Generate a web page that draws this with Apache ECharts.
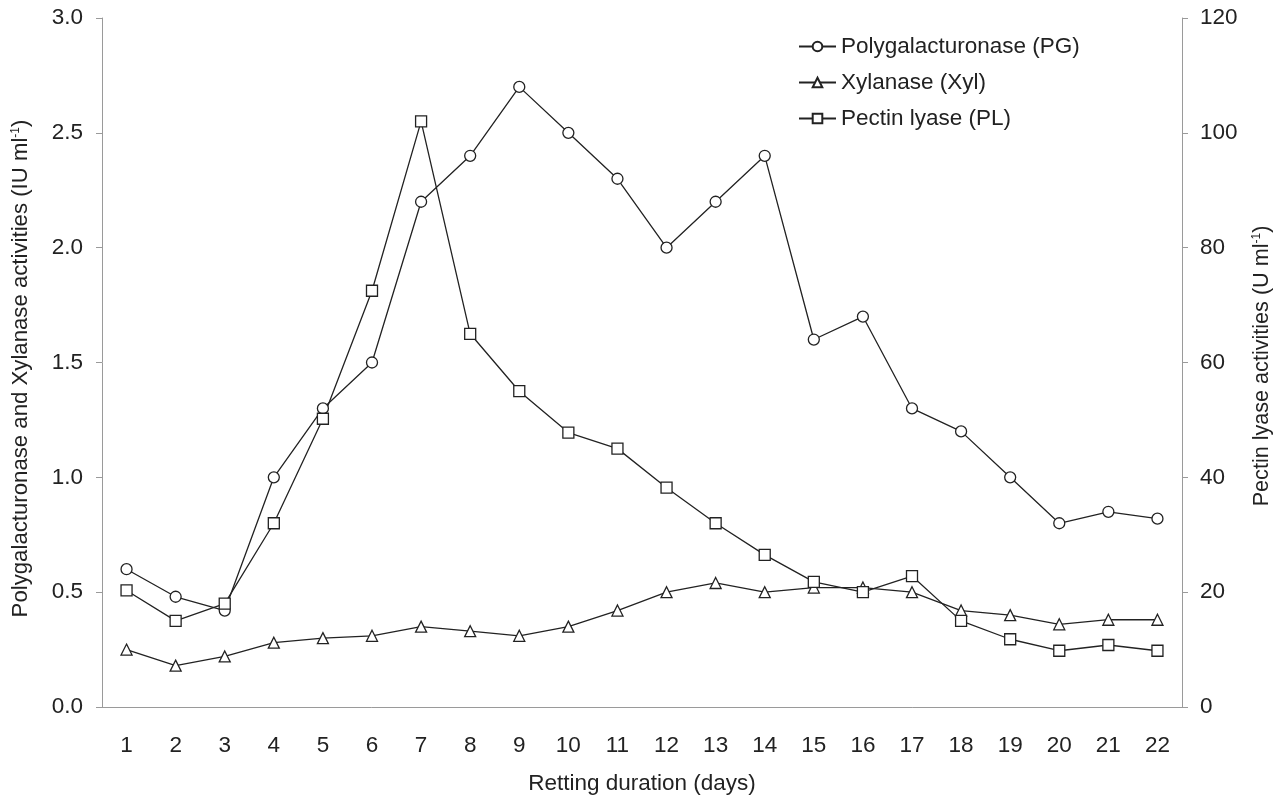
<!DOCTYPE html>
<html>
<head>
<meta charset="utf-8">
<script src="https://cdn.jsdelivr.net/npm/echarts@6/dist/echarts.min.js"></script>
<style>
  html, body { margin: 0; padding: 0; background: #fff; }
  #chart { width: 1283px; height: 800px; }
</style>
</head>
<body>
<div id="chart"></div>
<script>
const days = ['1','2','3','4','5','6','7','8','9','10','11','12','13','14','15','16','17','18','19','20','21','22'];
const pg = [0.6, 0.48, 0.42, 1.0, 1.3, 1.5, 2.2, 2.4, 2.7, 2.5, 2.3, 2.0, 2.2, 2.4, 1.6, 1.7, 1.3, 1.2, 1.0, 0.8, 0.85, 0.82];
const xyl = [0.25, 0.18, 0.22, 0.28, 0.3, 0.31, 0.35, 0.33, 0.31, 0.35, 0.42, 0.5, 0.54, 0.5, 0.52, 0.52, 0.5, 0.42, 0.4, 0.36, 0.38, 0.38];
const pl = [20.3, 15, 18, 32, 50.2, 72.5, 102, 65, 55, 47.8, 45, 38.2, 32, 26.5, 21.8, 20, 22.8, 15, 11.8, 9.8, 10.8, 9.8];

const ink = '#222';
const axisGrey = '#9a9a9a';
const font = 'Liberation Sans, Arial, sans-serif';
const fs = 22.5;

const lineSeries = (name, data, symbol, size, yAxisIndex) => ({
  name,
  type: 'line',
  data,
  yAxisIndex,
  symbol,
  symbolSize: size,
  showAllSymbol: true,
  lineStyle: { color: ink, width: 1.3 },
  itemStyle: { color: '#fff', borderColor: ink, borderWidth: 1.3 },
  emphasis: { disabled: true },
  z: 3,
});

const supRich = { sup: { fontSize: 12, verticalAlign: 'top', padding: [0, 0, 9, 0], color: ink } };

const drawChart = (domElement) => {
  const chart = echarts.init(domElement);
  const option = {
    backgroundColor: '#fff',
    animation: false,
    textStyle: { fontFamily: font, color: ink },
    grid: { left: 102, right: 101, top: 18, bottom: 93, outerBoundsMode: 'none', containLabel: false },
    legend: {
      orient: 'vertical',
      left: 798,
      top: 35,
      padding: 0,
      itemWidth: 37,
      itemHeight: 12,
      itemGap: 13,
      textStyle: { fontSize: fs, color: ink, fontFamily: font },
      data: ['Polygalacturonase (PG)', 'Xylanase (Xyl)', 'Pectin lyase (PL)'],
    },
    xAxis: {
      type: 'category',
      data: days,
      boundaryGap: true,
      name: 'Retting duration (days)',
      nameLocation: 'middle',
      nameGap: 65,
      nameTextStyle: { fontSize: fs, color: ink },
      axisLine: { lineStyle: { color: axisGrey, width: 1 } },
      axisTick: { length: 7, lineStyle: { color: axisGrey } },
      axisLabel: { fontSize: fs, color: ink, margin: 27 },
    },
    yAxis: [
      {
        type: 'value',
        min: 0,
        max: 3,
        interval: 0.5,
        position: 'left',
        name: 'Polygalacturonase and Xylanase activities (IU ml{sup|-1})',
        nameLocation: 'middle',
        nameRotate: 90,
        nameGap: 70,
        nameTextStyle: { fontSize: 22.2, color: ink, rich: supRich, padding: [0, 12, 0, 0] },
        axisLine: { show: true, lineStyle: { color: axisGrey, width: 1 } },
        axisTick: { show: true, length: 6, lineStyle: { color: axisGrey } },
        axisLabel: { fontSize: fs, color: ink, margin: 19, formatter: (v) => v.toFixed(1) },
        splitLine: { show: false },
      },
      {
        type: 'value',
        min: 0,
        max: 120,
        interval: 20,
        position: 'right',
        name: 'Pectin lyase activities (U ml{sup|-1})',
        nameLocation: 'middle',
        nameRotate: 90,
        nameGap: 69,
        nameTextStyle: { fontSize: 21.6, color: ink, rich: supRich, padding: [0, 7, 0, 0] },
        axisLine: { show: true, lineStyle: { color: axisGrey, width: 1 } },
        axisTick: { show: true, length: 6, lineStyle: { color: axisGrey } },
        axisLabel: { fontSize: fs, color: ink, margin: 18 },
        splitLine: { show: false },
      },
    ],
    series: [
      lineSeries('Polygalacturonase (PG)', pg, 'circle', 11, 0),
      lineSeries('Xylanase (Xyl)', xyl, 'triangle', 11, 0),
      lineSeries('Pectin lyase (PL)', pl, 'rect', 11, 1),
    ],
  };
  chart.setOption(option);
};

const $chartDom = document.querySelector('#chart');
drawChart($chartDom);
</script>
</body>
</html>
